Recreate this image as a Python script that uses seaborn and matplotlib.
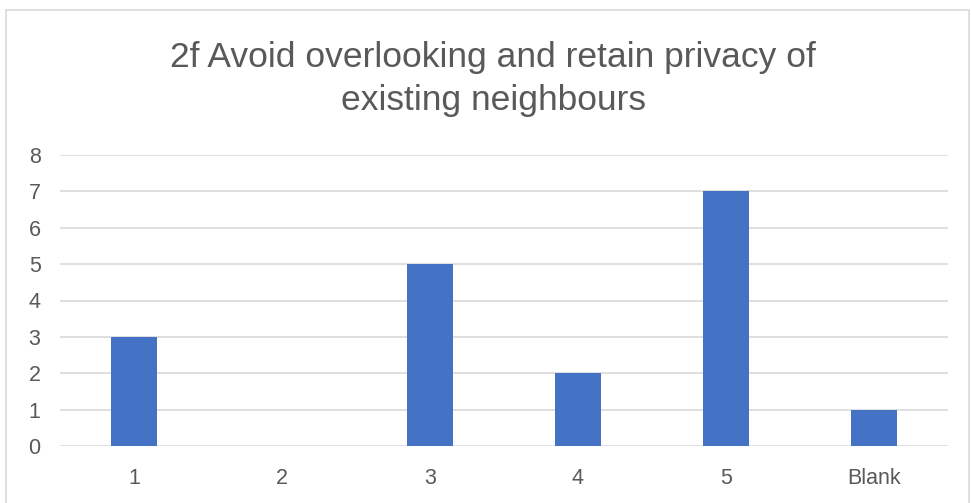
import matplotlib
matplotlib.use("Agg")
import matplotlib.pyplot as plt
import seaborn as sns
import pandas as pd
from matplotlib.patches import Rectangle

categories = ["1", "2", "3", "4", "5", "Blank"]
counts = [3, 0, 5, 2, 7, 1]
y_ticks = [0, 1, 2, 3, 4, 5, 6, 7, 8]
title = "2f Avoid overlooking and retain privacy of\nexisting neighbours"

sns.set_theme(style="white")
plt.rcParams["font.family"] = ["Liberation Sans", "DejaVu Sans"]

df = pd.DataFrame({"category": categories, "count": counts})

fig = plt.figure(figsize=(9.71, 5.03), dpi=100)
fig.patch.set_facecolor("white")

# chart-area frame
fig.patches.append(Rectangle((6 / 971, -0.01), 963 / 971, 1 - 10 / 503 + 0.01,
                             transform=fig.transFigure, fill=False,
                             edgecolor="#d9d9d9", linewidth=1.2))

ax = fig.add_axes([60 / 971, 1 - 446 / 503, 888 / 971, (446 - 155) / 503])
sns.barplot(data=df, x="category", y="count", color="#4472C4", width=0.31,
            saturation=1, ax=ax, zorder=3, linewidth=0)

ax.set_ylim(0, 8)
ax.set_xlim(-0.5, len(categories) - 0.5)
ax.set_yticks(y_ticks)
ax.yaxis.grid(True, color="#d9d9d9", linewidth=1.2, zorder=0)
ax.set_axisbelow(True)
for s in ax.spines.values():
    s.set_visible(False)
ax.set_xlabel("")
ax.set_ylabel("")
ax.tick_params(axis="both", length=0, labelsize=15.5, colors="#595959")
ax.tick_params(axis="y", pad=14)
ax.tick_params(axis="x", pad=16)

fig.text(493 / 971, 1 - 79 / 503, title, ha="center", va="center",
         fontsize=25.5, color="#595959", linespacing=1.35)

fig.savefig("out.png", dpi=100, facecolor="white")
